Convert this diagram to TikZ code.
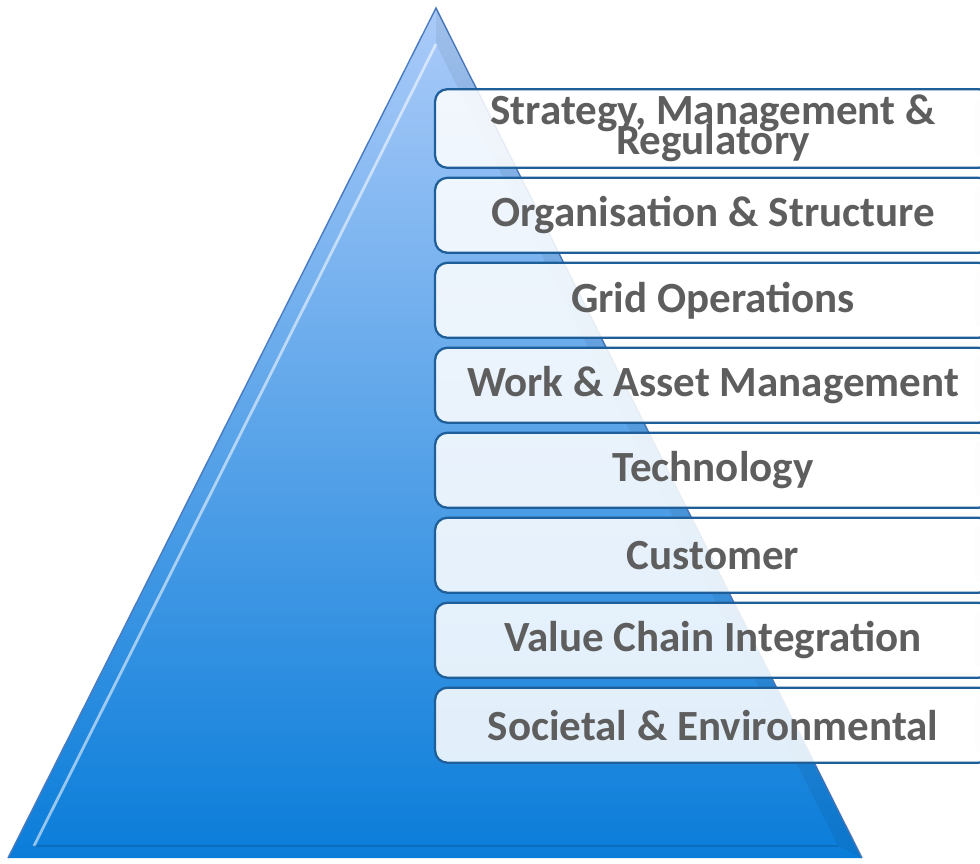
\documentclass[tikz,border=0pt]{standalone}
\usepackage{fontspec}
\setmainfont{Carlito}
\usepackage{xcolor}
\definecolor{boxEdge}{HTML}{1F5F99}
\definecolor{labelGray}{HTML}{5E5E5E}
\definecolor{pyrTop}{HTML}{ABCBF9}
\definecolor{pyrMid}{HTML}{5F9DEC}
\definecolor{pyrBottom}{HTML}{0A7DD9}
\definecolor{pyrEdge}{HTML}{4A7BBF}
\usetikzlibrary{positioning,calc}
\newcommand{\layerFont}{\fontsize{24.5}{17}\selectfont\bfseries\lineskiplimit=-30pt\relax}
\tikzset{%
  layerBox/.style={%
    rectangle,
    rounded corners=7pt,
    draw=boxEdge,
    line width=1.3pt,
    outer sep=0pt,
    fill=white,
    fill opacity=0.87,
    text opacity=1,
    text=labelGray,
    minimum width=11.12cm,
    minimum height=1.5cm,
    align=center,
    font=\layerFont
  },
  ghostBox/.style={%
    rounded corners=5pt,
    draw=gray!18,
    fill=gray!6
  },
  bevelLine/.style={%
    line width=1.6pt,
    white,
    opacity=0.55
  }
}

\begin{document}
\begin{tikzpicture}[x=0.02cm,y=-0.02cm,node distance=0.2cm]
  \useasboundingbox (0,0) rectangle (980,863);
  \clip (0,0) rectangle (980,863);

  % pyramid body
  \shade[top color=pyrTop,middle color=pyrMid,bottom color=pyrBottom]
    (436,8) -- (862,858) -- (8,858) -- cycle;
  \draw[pyrEdge,line width=0.8pt] (8,858) -- (436,8) -- (862,858);
  \fill[black,opacity=0.06] (436,8) -- (862,858) -- (838,846) -- (436,44) -- cycle;
  \draw[bevelLine] (436,44) -- (34,846);
  \draw[black,opacity=0.12,line width=1pt] (34,846) -- (838,846);

  % faint shapes at the right edge
  \foreach \t in {90,176,261,346,431,516,601,686}
    \fill[ghostBox] (975,\t+10) rectangle (1000,\t+66);

  % layers
  \node[layerBox] (strategy) at (713,128.5) {Strategy, Management \&\\Regulatory};
  \node[layerBox, below=of strategy] (organisation) {Organisation \& Structure};
  \node[layerBox, below=of organisation] (grid) {Grid Operations};
  \node[layerBox, below=of grid] (asset) {Work \& Asset Management};
  \node[layerBox, below=of asset] (technology) {Technology};
  \node[layerBox, below=of technology] (customer) {Customer};
  \node[layerBox, below=of customer] (valuechain) {Value Chain Integration};
  \node[layerBox, below=of valuechain] (societal) {Societal \& Environmental};
\end{tikzpicture}
\end{document}
